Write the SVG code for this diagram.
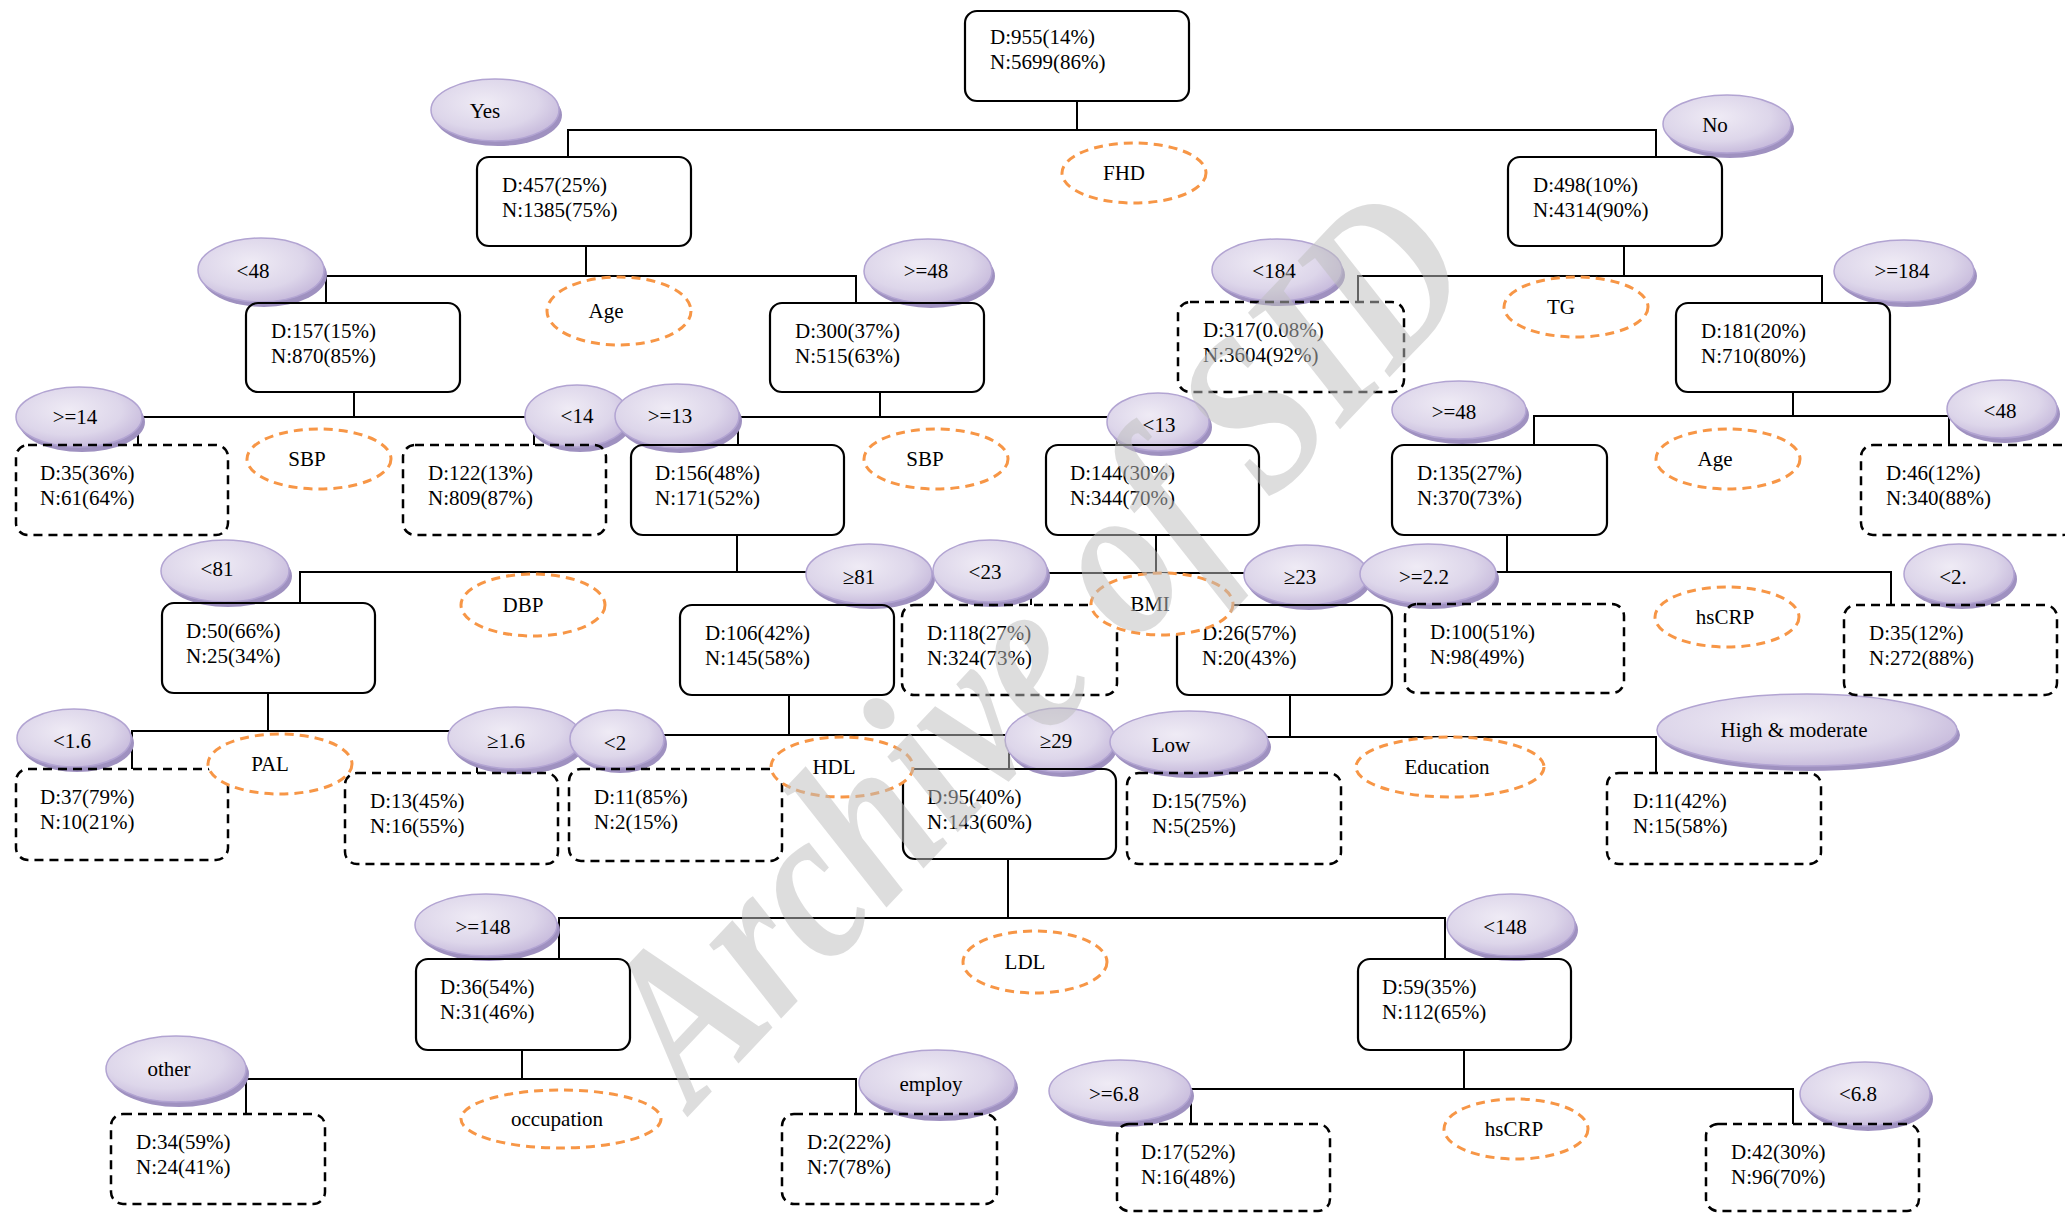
<svg xmlns="http://www.w3.org/2000/svg" width="2065" height="1214" viewBox="0 0 2065 1214">
<defs>
<radialGradient id="pg" cx="42%" cy="38%" r="70%">
<stop offset="0" stop-color="#efebf5"/>
<stop offset="0.6" stop-color="#ddd6ea"/>
<stop offset="1" stop-color="#c1b3d8"/>
</radialGradient>
<style>
text{font-family:"Liberation Serif","Times New Roman",serif;font-size:21px;fill:#000}
.c line,.c polyline{stroke:#000;stroke-width:2;fill:none}
.b{fill:none;stroke:#000;stroke-width:2.2}
.d{fill:none;stroke:#000;stroke-width:2.5;stroke-dasharray:9 6}
.sh{fill:#9f91c0}
.pe{fill:url(#pg);stroke:#b2a4d2;stroke-width:1.5}
.oe{fill:#fff;stroke:#f79646;stroke-width:3;stroke-dasharray:9 6}
.m{text-anchor:middle}
.wm{font-size:184px;font-weight:bold;font-style:italic;fill:#bfbfbf;opacity:0.52;text-anchor:middle}
</style>
</defs>
<rect width="2065" height="1214" fill="#fff"/>

<g id="connectors" class="c">
<line x1="1077" y1="101" x2="1077" y2="130"/>
<polyline points="568,157 568,130 1656,130 1656,157"/>
<line x1="586" y1="246" x2="586" y2="276"/>
<polyline points="326,303 326,276 856,276 856,303"/>
<line x1="1624" y1="246" x2="1624" y2="276"/>
<polyline points="1358,303 1358,276 1822,276 1822,303"/>
<line x1="354" y1="392" x2="354" y2="417"/>
<polyline points="138,445 138,417 534,417 534,445"/>
<line x1="880" y1="392" x2="880" y2="417"/>
<polyline points="738,445 738,417 1117,417 1117,445"/>
<line x1="1793" y1="392" x2="1793" y2="416"/>
<polyline points="1534,445 1534,416 1949,416 1949,445"/>
<line x1="737" y1="535" x2="737" y2="572"/>
<polyline points="300,603 300,572 850,572 850,605"/>
<line x1="1156" y1="535" x2="1156" y2="573"/>
<polyline points="1031,605 1031,573 1290,573 1290,605"/>
<line x1="1507" y1="535" x2="1507" y2="572"/>
<polyline points="1464,604 1464,572 1891,572 1891,605"/>
<line x1="268" y1="693" x2="268" y2="731"/>
<polyline points="132,769 132,731 477,731 477,773"/>
<line x1="789" y1="695" x2="789" y2="735"/>
<polyline points="646,769 646,735 1009,735 1009,769"/>
<line x1="1290" y1="695" x2="1290" y2="737"/>
<polyline points="1200,773 1200,737 1656,737 1656,773"/>
<line x1="1008" y1="859" x2="1008" y2="918"/>
<polyline points="559,959 559,918 1445,918 1445,959"/>
<line x1="522" y1="1050" x2="522" y2="1079"/>
<polyline points="246,1114 246,1079 856,1079 856,1114"/>
<line x1="1464" y1="1050" x2="1464" y2="1089"/>
<polyline points="1191,1124 1191,1089 1793,1089 1793,1124"/>
</g>

<g id="edge-labels">
<g id="e-yes"><ellipse class="sh" cx="498" cy="115" rx="64" ry="31"/><ellipse class="pe" cx="495" cy="110" rx="64" ry="31"/><text x="485" y="118" class="m">Yes</text></g>
<g id="e-no"><ellipse class="sh" cx="1730" cy="129" rx="64" ry="29"/><ellipse class="pe" cx="1727" cy="124" rx="64" ry="29"/><text x="1715" y="132" class="m">No</text></g>
<g id="e-age-lt48"><ellipse class="sh" cx="264" cy="275" rx="63" ry="32"/><ellipse class="pe" cx="261" cy="270" rx="63" ry="32"/><text x="253" y="278" class="m">&lt;48</text></g>
<g id="e-age-ge48"><ellipse class="sh" cx="931" cy="276" rx="64" ry="32"/><ellipse class="pe" cx="928" cy="271" rx="64" ry="32"/><text x="926" y="278" class="m">&gt;=48</text></g>
<g id="e-tg-lt184"><ellipse class="sh" cx="1280" cy="275" rx="65" ry="31"/><ellipse class="pe" cx="1277" cy="270" rx="65" ry="31"/><text x="1274" y="278" class="m">&lt;184</text></g>
<g id="e-tg-ge184"><ellipse class="sh" cx="1907" cy="276" rx="70" ry="31"/><ellipse class="pe" cx="1904" cy="271" rx="70" ry="31"/><text x="1902" y="278" class="m">&gt;=184</text></g>
<g id="e-sbp-ge14"><ellipse class="sh" cx="82" cy="422" rx="63" ry="30"/><ellipse class="pe" cx="79" cy="417" rx="63" ry="30"/><text x="75" y="424" class="m">&gt;=14</text></g>
<g id="e-sbp-lt14"><ellipse class="sh" cx="580" cy="421" rx="52" ry="31"/><ellipse class="pe" cx="577" cy="416" rx="52" ry="31"/><text x="577" y="423" class="m">&lt;14</text></g>
<g id="e-sbp-ge13"><ellipse class="sh" cx="680" cy="421" rx="62" ry="32"/><ellipse class="pe" cx="677" cy="416" rx="62" ry="32"/><text x="670" y="423" class="m">&gt;=13</text></g>
<g id="e-sbp-lt13"><ellipse class="sh" cx="1161" cy="427" rx="51" ry="29"/><ellipse class="pe" cx="1158" cy="422" rx="51" ry="29"/><text x="1159" y="432" class="m">&lt;13</text></g>
<g id="e-age2-ge48"><ellipse class="sh" cx="1462" cy="415" rx="67" ry="29"/><ellipse class="pe" cx="1459" cy="410" rx="67" ry="29"/><text x="1454" y="419" class="m">&gt;=48</text></g>
<g id="e-age2-lt48"><ellipse class="sh" cx="2005" cy="414" rx="55" ry="29"/><ellipse class="pe" cx="2002" cy="409" rx="55" ry="29"/><text x="2000" y="418" class="m">&lt;48</text></g>
<g id="e-dbp-lt81"><ellipse class="sh" cx="228" cy="576" rx="64" ry="31"/><ellipse class="pe" cx="225" cy="571" rx="64" ry="31"/><text x="217" y="576" class="m">&lt;81</text></g>
<g id="e-dbp-ge81"><ellipse class="sh" cx="872" cy="579" rx="63" ry="30"/><ellipse class="pe" cx="869" cy="574" rx="63" ry="30"/><text x="859" y="584" class="m">≥81</text></g>
<g id="e-bmi-lt23"><ellipse class="sh" cx="993" cy="576" rx="57" ry="31"/><ellipse class="pe" cx="990" cy="571" rx="57" ry="31"/><text x="985" y="579" class="m">&lt;23</text></g>
<g id="e-bmi-ge23"><ellipse class="sh" cx="1309" cy="580" rx="62" ry="30"/><ellipse class="pe" cx="1306" cy="575" rx="62" ry="30"/><text x="1300" y="584" class="m">≥23</text></g>
<g id="e-crp-ge22"><ellipse class="sh" cx="1431" cy="579" rx="68" ry="30"/><ellipse class="pe" cx="1428" cy="574" rx="68" ry="30"/><text x="1424" y="584" class="m">&gt;=2.2</text></g>
<g id="e-crp-lt2"><ellipse class="sh" cx="1962" cy="579" rx="55" ry="30"/><ellipse class="pe" cx="1959" cy="574" rx="55" ry="30"/><text x="1953" y="584" class="m">&lt;2.</text></g>
<g id="e-pal-lt16"><ellipse class="sh" cx="77" cy="743" rx="57" ry="29"/><ellipse class="pe" cx="74" cy="738" rx="57" ry="29"/><text x="72" y="748" class="m">&lt;1.6</text></g>
<g id="e-pal-ge16"><ellipse class="sh" cx="518" cy="743" rx="67" ry="31"/><ellipse class="pe" cx="515" cy="738" rx="67" ry="31"/><text x="506" y="748" class="m">≥1.6</text></g>
<g id="e-hdl-lt2"><ellipse class="sh" cx="620" cy="744" rx="47" ry="29"/><ellipse class="pe" cx="617" cy="739" rx="47" ry="29"/><text x="615" y="750" class="m">&lt;2</text></g>
<g id="e-hdl-ge29"><ellipse class="sh" cx="1063" cy="745" rx="55" ry="32"/><ellipse class="pe" cx="1060" cy="740" rx="55" ry="32"/><text x="1056" y="748" class="m">≥29</text></g>
<g id="e-edu-low"><ellipse class="sh" cx="1192" cy="747" rx="79" ry="31"/><ellipse class="pe" cx="1189" cy="742" rx="79" ry="31"/><text x="1171" y="752" class="m">Low</text></g>
<g id="e-edu-high"><ellipse class="sh" cx="1810" cy="735" rx="150" ry="36"/><ellipse class="pe" cx="1807" cy="730" rx="150" ry="36"/><text x="1794" y="737" class="m">High &amp; moderate</text></g>
<g id="e-ldl-ge148"><ellipse class="sh" cx="489" cy="930" rx="71" ry="31"/><ellipse class="pe" cx="486" cy="925" rx="71" ry="31"/><text x="483" y="934" class="m">&gt;=148</text></g>
<g id="e-ldl-lt148"><ellipse class="sh" cx="1514" cy="930" rx="64" ry="31"/><ellipse class="pe" cx="1511" cy="925" rx="64" ry="31"/><text x="1505" y="934" class="m">&lt;148</text></g>
<g id="e-occ-other"><ellipse class="sh" cx="179" cy="1074" rx="70" ry="33"/><ellipse class="pe" cx="176" cy="1069" rx="70" ry="33"/><text x="169" y="1076" class="m">other</text></g>
<g id="e-occ-employ"><ellipse class="sh" cx="940" cy="1088" rx="78" ry="33"/><ellipse class="pe" cx="937" cy="1083" rx="78" ry="33"/><text x="931" y="1091" class="m">employ</text></g>
<g id="e-crp2-ge68"><ellipse class="sh" cx="1123" cy="1096" rx="71" ry="31"/><ellipse class="pe" cx="1120" cy="1091" rx="71" ry="31"/><text x="1114" y="1101" class="m">&gt;=6.8</text></g>
<g id="e-crp2-lt68"><ellipse class="sh" cx="1868" cy="1099" rx="65" ry="32"/><ellipse class="pe" cx="1865" cy="1094" rx="65" ry="32"/><text x="1858" y="1101" class="m">&lt;6.8</text></g>
</g>

<g id="nodes">
<g id="n-root"><rect class="b" x="965" y="11" width="224" height="90" rx="12"/><text x="990" y="44">D:955(14%)</text><text x="990" y="69">N:5699(86%)</text></g>
<g id="n-457"><rect class="b" x="477" y="157" width="214" height="89" rx="12"/><text x="502" y="192">D:457(25%)</text><text x="502" y="217">N:1385(75%)</text></g>
<g id="n-498"><rect class="b" x="1508" y="157" width="214" height="89" rx="12"/><text x="1533" y="192">D:498(10%)</text><text x="1533" y="217">N:4314(90%)</text></g>
<g id="n-157"><rect class="b" x="246" y="303" width="214" height="89" rx="12"/><text x="271" y="338">D:157(15%)</text><text x="271" y="363">N:870(85%)</text></g>
<g id="n-300"><rect class="b" x="770" y="303" width="214" height="89" rx="12"/><text x="795" y="338">D:300(37%)</text><text x="795" y="363">N:515(63%)</text></g>
<g id="n-317"><rect class="d" x="1178" y="302" width="226" height="90" rx="12"/><text x="1203" y="337">D:317(0.08%)</text><text x="1203" y="362">N:3604(92%)</text></g>
<g id="n-181"><rect class="b" x="1676" y="303" width="214" height="89" rx="12"/><text x="1701" y="338">D:181(20%)</text><text x="1701" y="363">N:710(80%)</text></g>
<g id="n-35a"><rect class="d" x="16" y="445" width="212" height="90" rx="12"/><text x="40" y="480">D:35(36%)</text><text x="40" y="505">N:61(64%)</text></g>
<g id="n-122"><rect class="d" x="403" y="445" width="203" height="90" rx="12"/><text x="428" y="480">D:122(13%)</text><text x="428" y="505">N:809(87%)</text></g>
<g id="n-156"><rect class="b" x="631" y="445" width="213" height="90" rx="12"/><text x="655" y="480">D:156(48%)</text><text x="655" y="505">N:171(52%)</text></g>
<g id="n-144"><rect class="b" x="1046" y="445" width="213" height="90" rx="12"/><text x="1070" y="480">D:144(30%)</text><text x="1070" y="505">N:344(70%)</text></g>
<g id="n-135"><rect class="b" x="1392" y="445" width="215" height="90" rx="12"/><text x="1417" y="480">D:135(27%)</text><text x="1417" y="505">N:370(73%)</text></g>
<g id="n-46"><rect class="d" x="1861" y="445" width="214" height="90" rx="12"/><text x="1886" y="480">D:46(12%)</text><text x="1886" y="505">N:340(88%)</text></g>
<g id="n-50"><rect class="b" x="162" y="603" width="213" height="90" rx="12"/><text x="186" y="638">D:50(66%)</text><text x="186" y="663">N:25(34%)</text></g>
<g id="n-106"><rect class="b" x="680" y="605" width="214" height="90" rx="12"/><text x="705" y="640">D:106(42%)</text><text x="705" y="665">N:145(58%)</text></g>
<g id="n-118"><rect class="d" x="902" y="605" width="215" height="90" rx="12"/><text x="927" y="640">D:118(27%)</text><text x="927" y="665">N:324(73%)</text></g>
<g id="n-26"><rect class="b" x="1177" y="605" width="215" height="90" rx="12"/><text x="1202" y="640">D:26(57%)</text><text x="1202" y="665">N:20(43%)</text></g>
<g id="n-100"><rect class="d" x="1405" y="604" width="219" height="89" rx="12"/><text x="1430" y="639">D:100(51%)</text><text x="1430" y="664">N:98(49%)</text></g>
<g id="n-35b"><rect class="d" x="1844" y="605" width="213" height="90" rx="12"/><text x="1869" y="640">D:35(12%)</text><text x="1869" y="665">N:272(88%)</text></g>
<g id="n-37"><rect class="d" x="16" y="769" width="212" height="91" rx="12"/><text x="40" y="804">D:37(79%)</text><text x="40" y="829">N:10(21%)</text></g>
<g id="n-13"><rect class="d" x="345" y="773" width="213" height="91" rx="12"/><text x="370" y="808">D:13(45%)</text><text x="370" y="833">N:16(55%)</text></g>
<g id="n-11a"><rect class="d" x="569" y="769" width="213" height="92" rx="12"/><text x="594" y="804">D:11(85%)</text><text x="594" y="829">N:2(15%)</text></g>
<g id="n-95"><rect class="b" x="903" y="769" width="213" height="90" rx="12"/><text x="927" y="804">D:95(40%)</text><text x="927" y="829">N:143(60%)</text></g>
<g id="n-15"><rect class="d" x="1127" y="773" width="214" height="91" rx="12"/><text x="1152" y="808">D:15(75%)</text><text x="1152" y="833">N:5(25%)</text></g>
<g id="n-11b"><rect class="d" x="1607" y="773" width="214" height="91" rx="12"/><text x="1633" y="808">D:11(42%)</text><text x="1633" y="833">N:15(58%)</text></g>
<g id="n-36"><rect class="b" x="416" y="959" width="214" height="91" rx="12"/><text x="440" y="994">D:36(54%)</text><text x="440" y="1019">N:31(46%)</text></g>
<g id="n-59"><rect class="b" x="1358" y="959" width="213" height="91" rx="12"/><text x="1382" y="994">D:59(35%)</text><text x="1382" y="1019">N:112(65%)</text></g>
<g id="n-34"><rect class="d" x="111" y="1114" width="214" height="90" rx="12"/><text x="136" y="1149">D:34(59%)</text><text x="136" y="1174">N:24(41%)</text></g>
<g id="n-2"><rect class="d" x="782" y="1114" width="215" height="90" rx="12"/><text x="807" y="1149">D:2(22%)</text><text x="807" y="1174">N:7(78%)</text></g>
<g id="n-17"><rect class="d" x="1117" y="1124" width="213" height="87" rx="12"/><text x="1141" y="1159">D:17(52%)</text><text x="1141" y="1184">N:16(48%)</text></g>
<g id="n-42"><rect class="d" x="1706" y="1124" width="213" height="87" rx="12"/><text x="1731" y="1159">D:42(30%)</text><text x="1731" y="1184">N:96(70%)</text></g>
</g>

<g id="split-labels">
<g id="s-fhd"><ellipse class="oe" cx="1134" cy="173" rx="72" ry="30"/><text x="1124" y="180" class="m">FHD</text></g>
<g id="s-age1"><ellipse class="oe" cx="619" cy="311" rx="72" ry="34"/><text x="606" y="318" class="m">Age</text></g>
<g id="s-tg"><ellipse class="oe" cx="1576" cy="307" rx="72" ry="30"/><text x="1561" y="314" class="m">TG</text></g>
<g id="s-sbp1"><ellipse class="oe" cx="319" cy="459" rx="72" ry="30"/><text x="307" y="466" class="m">SBP</text></g>
<g id="s-sbp2"><ellipse class="oe" cx="936" cy="459" rx="72" ry="30"/><text x="925" y="466" class="m">SBP</text></g>
<g id="s-age2"><ellipse class="oe" cx="1728" cy="459" rx="72" ry="30"/><text x="1715" y="466" class="m">Age</text></g>
<g id="s-dbp"><ellipse class="oe" cx="533" cy="605" rx="72" ry="31"/><text x="523" y="612" class="m">DBP</text></g>
<g id="s-bmi"><ellipse class="oe" cx="1162" cy="604" rx="71" ry="31"/><text x="1150" y="611" class="m">BMI</text></g>
<g id="s-crp1"><ellipse class="oe" cx="1727" cy="617" rx="72" ry="30"/><text x="1725" y="624" class="m">hsCRP</text></g>
<g id="s-pal"><ellipse class="oe" cx="280" cy="764" rx="72" ry="30"/><text x="270" y="771" class="m">PAL</text></g>
<g id="s-hdl"><ellipse class="oe" cx="842" cy="767" rx="71" ry="30"/><text x="834" y="774" class="m">HDL</text></g>
<g id="s-edu"><ellipse class="oe" cx="1450" cy="767" rx="94" ry="30"/><text x="1447" y="774" class="m">Education</text></g>
<g id="s-ldl"><ellipse class="oe" cx="1035" cy="962" rx="72" ry="31"/><text x="1025" y="969" class="m">LDL</text></g>
<g id="s-occ"><ellipse class="oe" cx="561" cy="1119" rx="100" ry="29"/><text x="557" y="1126" class="m">occupation</text></g>
<g id="s-crp2"><ellipse class="oe" cx="1516" cy="1129" rx="72" ry="30"/><text x="1514" y="1136" class="m">hsCRP</text></g>
</g>

<text class="wm" x="0" y="0" transform="translate(1088,695) rotate(-46.5) scale(1,1.22)">Archive of SID</text>
</svg>
